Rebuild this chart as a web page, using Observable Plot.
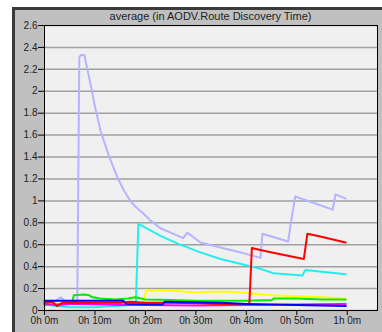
<!DOCTYPE html>
<html>
<head>
<meta charset="utf-8">
<script src="https://cdn.jsdelivr.net/npm/d3@7"></script>
<script src="https://cdn.jsdelivr.net/npm/@observablehq/plot@0.6"></script>
<style>
  html, body { margin: 0; padding: 0; background: #ffffff; }
  #wrap { position: relative; width: 382px; height: 332px; overflow: hidden; background: #ffffff; }
  #panel { position: absolute; left: 12px; top: 7px; right: 0; bottom: 0; background: #c0c0c0;
           border-top: 3px solid #3a3a3a; border-left: 3px solid #3a3a3a; }
  #chart { position: absolute; left: 0; top: 0; }
  #title { position: absolute; left: 44px; width: 333px; top: 10px; text-align: center;
           font: 11px "Liberation Sans", Arial, sans-serif; color: #222; }
</style>
</head>
<body>
<div id="wrap"><div id="panel"></div><div id="chart"></div><div id="title"></div></div>
<script>
const titleText = "average (in AODV.Route Discovery Time)";
const xTicks = [0, 10, 20, 30, 40, 50, 60];
const yTicks = [0, 0.2, 0.4, 0.6, 0.8, 1, 1.2, 1.4, 1.6, 1.8, 2, 2.2, 2.4, 2.6];

// [minutes, value]
const lavender = [[0,0.08],[2,0.08],[3.2,0.12],[4,0.09],[6.5,0.08],[6.9,2.31],[7.2,2.33],[7.9,2.33],[8.5,2.2],[9.1,2.07],[10,1.86],[11.1,1.64],[12.7,1.42],[13.7,1.3],[14.7,1.19],[15.8,1.09],[17,1.0],[18.2,0.94],[19.6,0.885],[21,0.82],[23,0.75],[25,0.71],[27.5,0.66],[28.3,0.71],[30.9,0.62],[34.9,0.575],[38.9,0.53],[42.8,0.48],[43.2,0.70],[48.3,0.63],[48.8,0.79],[49.7,1.04],[57.1,0.92],[57.7,1.06],[59.7,1.02]];
const cyan = [[0,0.06],[2,0.04],[5,0.03],[10,0.03],[14,0.04],[17,0.05],[18.1,0.05],[18.6,0.79],[21,0.73],[23,0.68],[26.4,0.61],[30.9,0.53],[34.9,0.47],[39.4,0.42],[42.8,0.38],[45.4,0.34],[51.1,0.32],[51.7,0.37],[59.7,0.33]];
const yellow = [[0,0.06],[5,0.06],[10,0.05],[15,0.06],[19.5,0.06],[20.2,0.19],[21,0.18],[25,0.18],[28,0.17],[30,0.165],[33,0.17],[37,0.17],[40,0.16],[45,0.14],[50,0.13],[55,0.12],[59.7,0.11]];
const green = [[0,0.05],[4,0.06],[5.5,0.07],[5.8,0.14],[8,0.145],[8.8,0.14],[9.5,0.12],[11,0.11],[14,0.1],[16.5,0.11],[18,0.12],[20,0.1],[25,0.095],[30,0.09],[40,0.09],[45,0.095],[45.5,0.11],[50,0.11],[55,0.1],[59.7,0.1]];
const magenta = [[0,0.06],[3,0.05],[5,0.06],[8,0.06],[15,0.05],[20,0.05],[30,0.045],[40,0.05],[50,0.055],[59.7,0.06]];
const red = [[0,0.07],[1.5,0.08],[2.5,0.04],[3.5,0.07],[6,0.07],[10,0.07],[15,0.07],[17,0.08],[20,0.07],[25,0.07],[30,0.065],[35,0.06],[40.6,0.06],[41.1,0.57],[43,0.55],[47,0.51],[51.4,0.47],[52.1,0.70],[54.2,0.68],[59.7,0.62]];
const blue = [[0,0.09],[5,0.09],[10,0.09],[15.6,0.09],[16.2,0.06],[20,0.055],[23.4,0.055],[23.8,0.08],[30,0.075],[35,0.07],[40,0.06],[45,0.055],[50,0.05],[55,0.045],[59.7,0.04]];

const seriesList = [
  {data: lavender, color: "#b4b4ff"},
  {data: cyan, color: "#22eeee"},
  {data: yellow, color: "#ffff00"},
  {data: green, color: "#00ee00"},
  {data: magenta, color: "#ff00ff"},
  {data: red, color: "#ff0000"},
  {data: blue, color: "#0000ff"}
];

const fmtX = m => `${Math.floor(m / 60)}h ${m % 60}m`;
const fmtY = v => String(+v.toFixed(1));

const chart = Plot.plot({
  width: 382,
  height: 332,
  marginLeft: 44,
  marginRight: 5,
  marginTop: 25,
  marginBottom: 22,
  style: {background: "transparent", fontFamily: "'Liberation Sans', Arial, sans-serif", fontSize: "10px", color: "#222"},
  x: {domain: [0, 66], ticks: xTicks},
  y: {domain: [0, 2.6], ticks: yTicks},
  marks: [
    Plot.frame({fill: "#f0f0f0", stroke: null}),
    Plot.gridY(yTicks, {stroke: "#a0a0a0", strokeOpacity: 1, strokeWidth: 1.5}),
    ...seriesList.map(s => Plot.line(s.data, {x: d => d[0], y: d => d[1], stroke: s.color, strokeWidth: 2, curve: "linear"})),
    Plot.frame({stroke: "#000", strokeWidth: 1}),
    Plot.axisX(xTicks, {tickFormat: fmtX, tickSize: 5, tickPadding: 1, stroke: "#000", label: null}),
    Plot.axisY(yTicks, {tickFormat: fmtY, tickSize: 6, tickPadding: 1, stroke: "#000", label: null})
  ]
});
document.getElementById("chart").appendChild(chart);
document.getElementById("title").textContent = titleText;
</script>
</body>
</html>
